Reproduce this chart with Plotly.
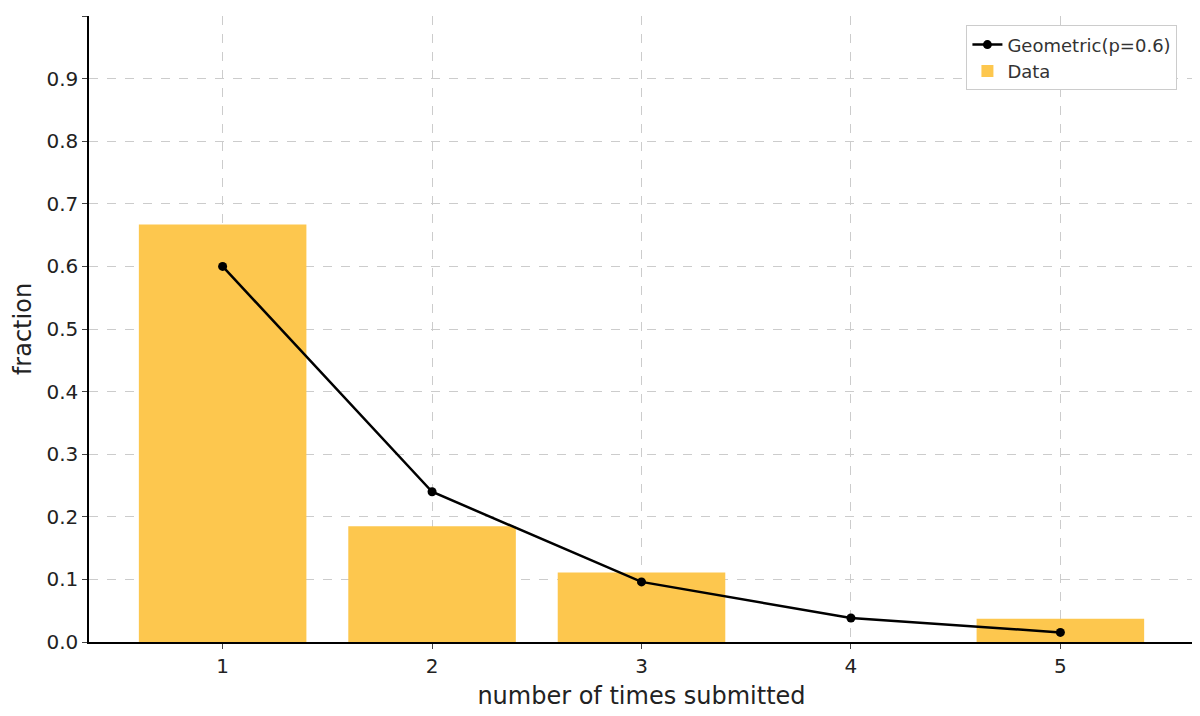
import plotly.graph_objects as go

categories = [1, 2, 3, 4, 5]
data_frac = [0.667, 0.185, 0.111, 0.0, 0.037]
geom_frac = [0.6, 0.24, 0.096, 0.0384, 0.01536]
yticks = [0.0, 0.1, 0.2, 0.3, 0.4, 0.5, 0.6, 0.7, 0.8, 0.9, 1.0]

fig = go.Figure()
fig.add_trace(go.Scatter(x=categories, y=geom_frac, mode="lines+markers", name="Geometric(p=0.6)",
                         line=dict(color="black", width=2.5), marker=dict(color="black", size=9)))
fig.add_trace(go.Bar(x=categories, y=data_frac, name="Data", width=0.8,
                     marker=dict(color="#FDC74E", line=dict(width=0))))
fig.update_layout(
    width=1200, height=716, plot_bgcolor="white", paper_bgcolor="white",
    margin=dict(l=81, r=14, t=8, b=82),
    font=dict(family="DejaVu Sans", size=20, color="#222"),
    legend=dict(x=0.985, y=0.985, xanchor="right", yanchor="top", bordercolor="#ccc", borderwidth=1,
                font=dict(size=18, color="#333"), traceorder="normal", bgcolor="white"),
    xaxis=dict(range=[0.362, 5.638], tickvals=categories, showline=True, linecolor="black", linewidth=1.5,
               ticks="outside", ticklen=5, showgrid=True, gridcolor="#ccc", griddash="dash",
               tickfont=dict(size=20, color="#222"),
               title=dict(text="number of times submitted", font=dict(size=24), standoff=10), zeroline=False),
    yaxis=dict(range=[0, 1.0], tickvals=yticks, tickformat=".1f", showline=True, linecolor="black", linewidth=1.5,
               ticks="outside", ticklen=5, showgrid=True, gridcolor="#ccc", griddash="dash",
               tickfont=dict(size=20, color="#222"),
               title=dict(text="fraction", font=dict(size=24), standoff=8), zeroline=False),
)
fig.write_html("out.html")
